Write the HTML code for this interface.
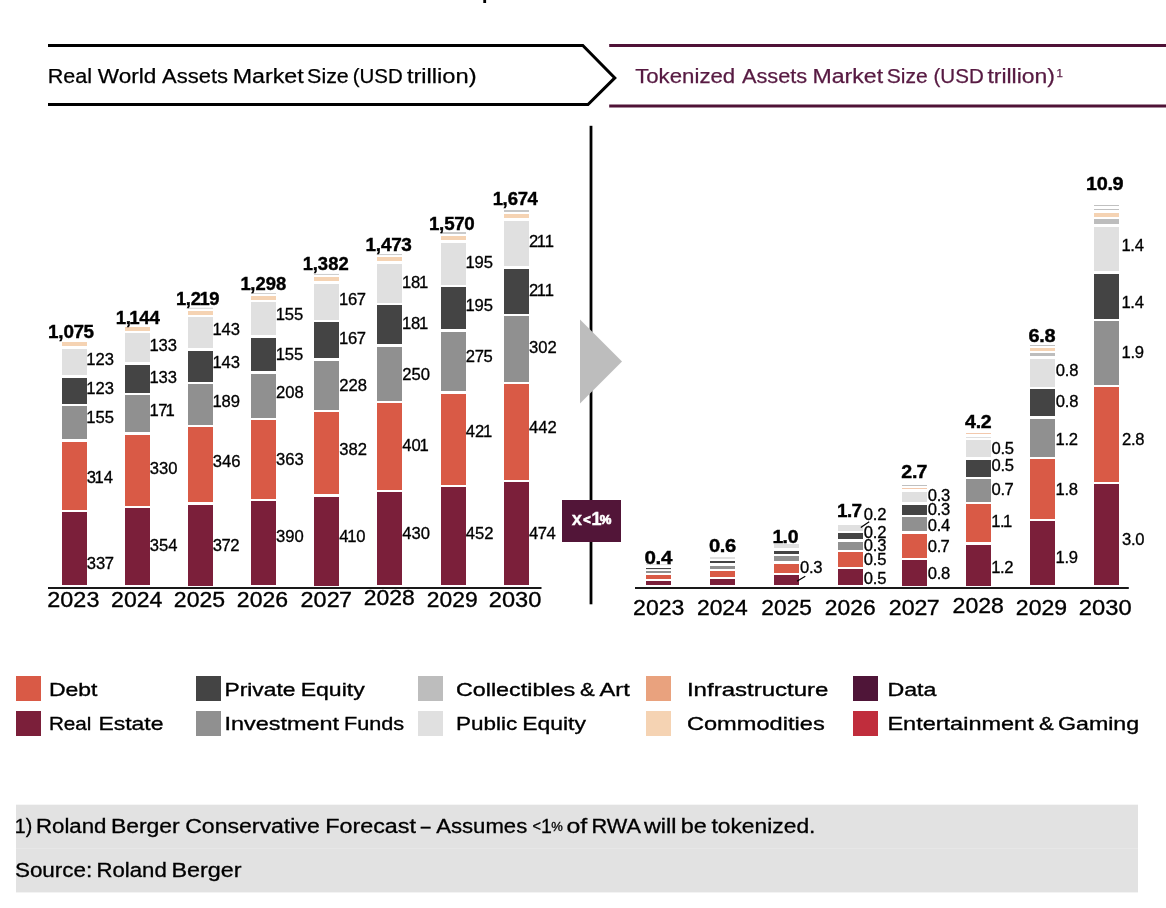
<!DOCTYPE html>
<html lang="en">
<head>
<meta charset="utf-8">
<title>Real World Assets vs Tokenized Assets Market Size</title>
<style>
html,body{margin:0;padding:0;background:#fff;}
body{width:1166px;height:908px;overflow:hidden;}
svg{display:block;}
svg text{font-family:'Liberation Sans', Arial, Helvetica, sans-serif;}
</style>
</head>
<body>
<svg width="1166" height="908" viewBox="0 0 1166 908">
<g id="headers">
<rect x="483.3" y="0" width="2.8" height="3" fill="#000"/>
<path d="M48 45.5H582.8L614.8 77.9L588 104.5H48" fill="none" stroke="#000" stroke-width="3"/>
<text y="82.8" font-size="20" stroke="#000" stroke-width="0.25"><tspan x="47.8" textLength="44.3" lengthAdjust="spacingAndGlyphs">Real</tspan> <tspan x="97.8" textLength="58.5" lengthAdjust="spacingAndGlyphs">World</tspan> <tspan x="162.1" textLength="65.9" lengthAdjust="spacingAndGlyphs">Assets</tspan> <tspan x="232.7" textLength="71" lengthAdjust="spacingAndGlyphs">Market</tspan> <tspan x="307.1" textLength="41.7" lengthAdjust="spacingAndGlyphs">Size</tspan> <tspan x="352.7" textLength="50" lengthAdjust="spacingAndGlyphs">(USD</tspan> <tspan x="406.9" textLength="69.7" lengthAdjust="spacingAndGlyphs">trillion)</tspan></text>
<rect x="609.2" y="44" width="556.8" height="3" fill="#4f1237"/>
<rect x="609.2" y="104.5" width="556.8" height="3" fill="#4f1237"/>
<text y="82.8" font-size="20" fill="#571a42" stroke="#571a42" stroke-width="0.25"><tspan x="635.15" textLength="100.1" lengthAdjust="spacingAndGlyphs">Tokenized</tspan> <tspan x="742" textLength="65.25" lengthAdjust="spacingAndGlyphs">Assets</tspan> <tspan x="812.4" textLength="70.7" lengthAdjust="spacingAndGlyphs">Market</tspan> <tspan x="886.7" textLength="41" lengthAdjust="spacingAndGlyphs">Size</tspan> <tspan x="933.5" textLength="50.25" lengthAdjust="spacingAndGlyphs">(USD</tspan> <tspan x="987.4" textLength="67.6" lengthAdjust="spacingAndGlyphs">trillion)</tspan><tspan x="1056.6" y="77.4" font-size="11.5">1</tspan></text>
</g>
<g id="divider">
<rect x="589.6" y="125.8" width="2.8" height="478.5" fill="#000"/>
<path d="M580 319.6L622 361.4L580 403.6Z" fill="#bdbdbd"/>
<rect x="562" y="500" width="59" height="42" fill="#521538"/>
<text font-weight="700" fill="#fff" stroke="#fff" stroke-width="0.3" font-size="18.5" y="524.9"><tspan x="571.8">x</tspan><tspan x="583.3" y="523.5" font-size="12.8" stroke-width="0.8">&lt;</tspan><tspan x="591.3" y="524.9">1</tspan><tspan x="599.8" y="524.1" font-size="13.1" stroke-width="0.7">%</tspan></text>
</g>
<g id="rwa-chart">
<rect x="48" y="587.1" width="493.5" height="1.8" fill="#000"/>
<rect x="62" y="512" width="25" height="73" fill="#7b1f3a"/>
<rect x="62" y="442" width="25" height="68" fill="#d95a46"/>
<rect x="62" y="406" width="25" height="33" fill="#909090"/>
<rect x="62" y="378" width="25" height="26" fill="#444444"/>
<rect x="62" y="349" width="25" height="26" fill="#e0e0e0"/>
<rect x="62" y="342" width="25" height="4" fill="#f5d3b3"/>
<rect x="125" y="508" width="25" height="77" fill="#7b1f3a"/>
<rect x="125" y="435" width="25" height="71" fill="#d95a46"/>
<rect x="125" y="395" width="25" height="37" fill="#909090"/>
<rect x="125" y="365" width="25" height="28" fill="#444444"/>
<rect x="125" y="333" width="25" height="29" fill="#e0e0e0"/>
<rect x="125" y="327" width="25" height="4" fill="#f5d3b3"/>
<rect x="188" y="505" width="25" height="81" fill="#7b1f3a"/>
<rect x="188" y="427" width="25" height="75" fill="#d95a46"/>
<rect x="188" y="384" width="25" height="41" fill="#909090"/>
<rect x="188" y="351" width="25" height="31" fill="#444444"/>
<rect x="188" y="317" width="25" height="31" fill="#e0e0e0"/>
<rect x="188" y="311" width="25" height="4" fill="#f5d3b3"/>
<rect x="188" y="307.8" width="25" height="0.8" fill="#c6c6c6"/>
<rect x="251" y="501" width="25" height="84" fill="#7b1f3a"/>
<rect x="251" y="420" width="25" height="79" fill="#d95a46"/>
<rect x="251" y="374" width="25" height="44" fill="#909090"/>
<rect x="251" y="338" width="25" height="33" fill="#444444"/>
<rect x="251" y="302" width="25" height="33" fill="#e0e0e0"/>
<rect x="251" y="296" width="25" height="4" fill="#f5d3b3"/>
<rect x="251" y="293.2" width="25" height="0.8" fill="#c6c6c6"/>
<rect x="314" y="497" width="25" height="89" fill="#7b1f3a"/>
<rect x="314" y="412" width="25" height="82" fill="#d95a46"/>
<rect x="314" y="361" width="25" height="49" fill="#909090"/>
<rect x="314" y="322" width="25" height="36" fill="#444444"/>
<rect x="314" y="284" width="25" height="36" fill="#e0e0e0"/>
<rect x="314" y="277" width="25" height="4" fill="#f5d3b3"/>
<rect x="314" y="273.95" width="25" height="0.9" fill="#c6c6c6"/>
<rect x="377" y="492" width="25" height="93" fill="#7b1f3a"/>
<rect x="377" y="403" width="25" height="87" fill="#d95a46"/>
<rect x="377" y="347" width="25" height="54" fill="#909090"/>
<rect x="377" y="305" width="25" height="39" fill="#444444"/>
<rect x="377" y="264" width="25" height="39" fill="#e0e0e0"/>
<rect x="377" y="257" width="25" height="4" fill="#f5d3b3"/>
<rect x="377" y="254.15" width="25" height="0.9" fill="#c6c6c6"/>
<rect x="441" y="487" width="25" height="98" fill="#7b1f3a"/>
<rect x="441" y="394" width="25" height="91" fill="#d95a46"/>
<rect x="441" y="332" width="25" height="59" fill="#909090"/>
<rect x="441" y="287" width="25" height="42" fill="#444444"/>
<rect x="441" y="243" width="25" height="42" fill="#e0e0e0"/>
<rect x="441" y="236" width="25" height="4" fill="#f5d3b3"/>
<rect x="441" y="232.2" width="25" height="1.6" fill="#bdbdbd"/>
<rect x="504" y="482" width="25" height="103" fill="#7b1f3a"/>
<rect x="504" y="384" width="25" height="96" fill="#d95a46"/>
<rect x="504" y="316" width="25" height="66" fill="#909090"/>
<rect x="504" y="269" width="25" height="45" fill="#444444"/>
<rect x="504" y="221" width="25" height="45" fill="#e0e0e0"/>
<rect x="504" y="214" width="25" height="4" fill="#f5d3b3"/>
<rect x="504" y="210.15" width="25" height="1.7" fill="#bdbdbd"/>
<text transform="scale(1.0394,1)" x="83.36 92.26 100.72" y="568.8" font-size="16" stroke="#000" stroke-width="0.3">337</text>
<text transform="scale(1.0394,1)" x="83.36 90.99 99.74" y="483" font-size="16" stroke="#000" stroke-width="0.3">314</text>
<text transform="scale(1.0394,1)" x="83.05 91.8 100.7" y="423.5" font-size="16" stroke="#000" stroke-width="0.3">155</text>
<text transform="scale(1.0394,1)" x="83.05 91.8 100.7" y="394.2" font-size="16" stroke="#000" stroke-width="0.3">123</text>
<text transform="scale(1.0394,1)" x="83.05 91.8 100.7" y="365.4" font-size="16" stroke="#000" stroke-width="0.3">123</text>
<text transform="scale(1.0394,1)" x="144.17 153.07 161.97" y="550.9" font-size="16" stroke="#000" stroke-width="0.3">354</text>
<text transform="scale(1.0394,1)" x="144.17 153.07 161.97" y="474" font-size="16" stroke="#000" stroke-width="0.3">330</text>
<text transform="scale(1.0394,1)" x="143.86 152.16 159.34" y="416" font-size="16" stroke="#000" stroke-width="0.3">171</text>
<text transform="scale(1.0394,1)" x="143.86 152.6 161.5" y="382.8" font-size="16" stroke="#000" stroke-width="0.3">133</text>
<text transform="scale(1.0394,1)" x="143.86 152.6 161.5" y="351" font-size="16" stroke="#000" stroke-width="0.3">133</text>
<text transform="scale(1.0394,1)" x="204.68 213.14 221.59" y="550.9" font-size="16" stroke="#000" stroke-width="0.3">372</text>
<text transform="scale(1.0394,1)" x="204.68 213.58 222.48" y="466.8" font-size="16" stroke="#000" stroke-width="0.3">346</text>
<text transform="scale(1.0394,1)" x="204.37 213.12 222.02" y="407.2" font-size="16" stroke="#000" stroke-width="0.3">189</text>
<text transform="scale(1.0394,1)" x="204.37 213.12 222.02" y="368.5" font-size="16" stroke="#000" stroke-width="0.3">143</text>
<text transform="scale(1.0394,1)" x="204.37 213.12 222.02" y="335.3" font-size="16" stroke="#000" stroke-width="0.3">143</text>
<text transform="scale(1.0394,1)" x="265.58 274.48 283.38" y="541.7" font-size="16" stroke="#000" stroke-width="0.3">390</text>
<text transform="scale(1.0394,1)" x="265.58 274.48 283.38" y="465.1" font-size="16" stroke="#000" stroke-width="0.3">363</text>
<text transform="scale(1.0394,1)" x="265.58 274.48 283.38" y="398.2" font-size="16" stroke="#000" stroke-width="0.3">208</text>
<text transform="scale(1.0394,1)" x="265.27 274.02 282.92" y="359.8" font-size="16" stroke="#000" stroke-width="0.3">155</text>
<text transform="scale(1.0394,1)" x="265.27 274.02 282.92" y="319.8" font-size="16" stroke="#000" stroke-width="0.3">155</text>
<text transform="scale(1.0394,1)" x="326.38 334.01 342.76" y="542.4" font-size="16" stroke="#000" stroke-width="0.3">410</text>
<text transform="scale(1.0394,1)" x="326.38 335.28 344.18" y="455.1" font-size="16" stroke="#000" stroke-width="0.3">382</text>
<text transform="scale(1.0394,1)" x="326.38 335.28 344.18" y="391.1" font-size="16" stroke="#000" stroke-width="0.3">228</text>
<text transform="scale(1.0394,1)" x="326.07 334.82 343.28" y="344.3" font-size="16" stroke="#000" stroke-width="0.3">167</text>
<text transform="scale(1.0394,1)" x="326.07 334.82 343.28" y="304.9" font-size="16" stroke="#000" stroke-width="0.3">167</text>
<text transform="scale(1.0394,1)" x="387.09 395.99 404.89" y="538.9" font-size="16" stroke="#000" stroke-width="0.3">430</text>
<text transform="scale(1.0394,1)" x="387.09 395.99 403.62" y="451" font-size="16" stroke="#000" stroke-width="0.3">401</text>
<text transform="scale(1.0394,1)" x="387.09 395.99 404.89" y="380.2" font-size="16" stroke="#000" stroke-width="0.3">250</text>
<text transform="scale(1.0394,1)" x="386.78 395.53 403.16" y="329.3" font-size="16" stroke="#000" stroke-width="0.3">181</text>
<text transform="scale(1.0394,1)" x="386.78 395.53 403.16" y="288.3" font-size="16" stroke="#000" stroke-width="0.3">181</text>
<text transform="scale(1.0394,1)" x="448.18 457.08 465.98" y="538.8" font-size="16" stroke="#000" stroke-width="0.3">452</text>
<text transform="scale(1.0394,1)" x="448.18 457.08 464.71" y="437.3" font-size="16" stroke="#000" stroke-width="0.3">421</text>
<text transform="scale(1.0394,1)" x="448.18 456.64 465.09" y="362.3" font-size="16" stroke="#000" stroke-width="0.3">275</text>
<text transform="scale(1.0394,1)" x="447.87 456.62 465.52" y="310.9" font-size="16" stroke="#000" stroke-width="0.3">195</text>
<text transform="scale(1.0394,1)" x="447.87 456.62 465.52" y="268" font-size="16" stroke="#000" stroke-width="0.3">195</text>
<text transform="scale(1.0394,1)" x="508.89 517.34 525.8" y="538.7" font-size="16" stroke="#000" stroke-width="0.3">474</text>
<text transform="scale(1.0394,1)" x="508.89 517.79 526.69" y="433.5" font-size="16" stroke="#000" stroke-width="0.3">442</text>
<text transform="scale(1.0394,1)" x="508.89 517.79 526.69" y="353.1" font-size="16" stroke="#000" stroke-width="0.3">302</text>
<text transform="scale(1.0394,1)" x="508.89 516.52 523.99" y="296.3" font-size="16" stroke="#000" stroke-width="0.3">211</text>
<text transform="scale(1.0394,1)" x="508.89 516.52 523.99" y="247.1" font-size="16" stroke="#000" stroke-width="0.3">211</text>
<text transform="scale(1.0202,1)" x="47.09 57 62.14 72.02 81.9" y="338.5" font-size="18.5" stroke="#000" stroke-width="0.4" font-weight="700">1,075</text>
<text transform="scale(1.0098,1)" x="114.54 124.45 127.91 137.82 148.11" y="324" font-size="18.5" stroke="#000" stroke-width="0.4" font-weight="700">1,144</text>
<text transform="scale(0.9932,1)" x="177.09 187 192.15 200.76 210.67" y="305.5" font-size="18.5" stroke="#000" stroke-width="0.4" font-weight="700">1,219</text>
<text transform="scale(0.9967,1)" x="241.27 251.18 256.33 266.62 276.91" y="290" font-size="18.5" stroke="#000" stroke-width="0.4" font-weight="700">1,298</text>
<text transform="scale(0.9967,1)" x="303.88 313.79 318.93 329.22 339.51" y="270.1" font-size="18.5" stroke="#000" stroke-width="0.4" font-weight="700">1,382</text>
<text transform="scale(1.0248,1)" x="356.78 366.69 371.83 381.71 391.59" y="251" font-size="18.5" stroke="#000" stroke-width="0.4" font-weight="700">1,473</text>
<text transform="scale(1.0133,1)" x="423.32 433.23 438.37 448.25 458.13" y="230.3" font-size="18.5" stroke="#000" stroke-width="0.4" font-weight="700">1,570</text>
<text transform="scale(1.0018,1)" x="491.79 501.7 506.85 516.72 526.6" y="205.3" font-size="18.5" stroke="#000" stroke-width="0.4" font-weight="700">1,674</text>
<text transform="scale(1.0634,1)" x="44.53 56.76 69 81.24" y="606.6" font-size="22" stroke="#000" stroke-width="0.35">2023</text>
<text transform="scale(1.0481,1)" x="106 118.24 130.47 142.71" y="606.6" font-size="22" stroke="#000" stroke-width="0.35">2024</text>
<text transform="scale(1.0481,1)" x="165.87 178.11 190.34 202.58" y="606.6" font-size="22" stroke="#000" stroke-width="0.35">2025</text>
<text transform="scale(1.0481,1)" x="225.98 238.22 250.45 262.69" y="606.6" font-size="22" stroke="#000" stroke-width="0.35">2026</text>
<text transform="scale(1.0645,1)" x="282.39 294.62 306.86 318.48" y="606.6" font-size="22" stroke="#000" stroke-width="0.35">2027</text>
<text transform="scale(1.0430,1)" x="348.85 361.09 373.32 385.56" y="605.35" font-size="22" stroke="#000" stroke-width="0.35">2028</text>
<text transform="scale(1.0379,1)" x="411.27 423.5 435.74 447.98" y="606.6" font-size="22" stroke="#000" stroke-width="0.35">2029</text>
<text transform="scale(1.0736,1)" x="455.32 467.56 479.79 492.03" y="606.6" font-size="22" stroke="#000" stroke-width="0.35">2030</text>
</g>
<g id="tokenized-chart">
<rect x="635" y="587.1" width="493.8" height="1.8" fill="#000"/>
<rect x="646" y="581" width="25" height="4" fill="#7b1f3a"/>
<rect x="646" y="575" width="25" height="4" fill="#d95a46"/>
<rect x="646" y="571" width="25" height="2" fill="#909090"/>
<rect x="646" y="568" width="25" height="1.1" fill="#444444"/>
<rect x="646" y="564.1" width="25" height="1" fill="#e0e0e0"/>
<rect x="710" y="579" width="25" height="6" fill="#7b1f3a"/>
<rect x="710" y="571" width="25" height="6" fill="#d95a46"/>
<rect x="710" y="566" width="25" height="3" fill="#909090"/>
<rect x="710" y="561" width="25" height="2" fill="#444444"/>
<rect x="710" y="557" width="25" height="2" fill="#e0e0e0"/>
<rect x="774" y="575" width="25" height="10" fill="#7b1f3a"/>
<rect x="774" y="564" width="25" height="9" fill="#d95a46"/>
<rect x="774" y="556" width="25" height="5" fill="#909090"/>
<rect x="774" y="551" width="25" height="3" fill="#444444"/>
<rect x="774" y="544" width="25" height="4" fill="#e0e0e0"/>
<rect x="838" y="569" width="25" height="16" fill="#7b1f3a"/>
<rect x="838" y="552" width="25" height="15" fill="#d95a46"/>
<rect x="838" y="542" width="25" height="8" fill="#909090"/>
<rect x="838" y="533" width="25" height="6" fill="#444444"/>
<rect x="838" y="525" width="25" height="6" fill="#e0e0e0"/>
<rect x="902" y="560" width="25" height="26" fill="#7b1f3a"/>
<rect x="902" y="534" width="25" height="24" fill="#d95a46"/>
<rect x="902" y="517" width="25" height="14" fill="#909090"/>
<rect x="902" y="505" width="25" height="10" fill="#444444"/>
<rect x="902" y="492" width="25" height="10" fill="#e0e0e0"/>
<rect x="902" y="488.1" width="25" height="0.8" fill="#f0bb98"/>
<rect x="902" y="485" width="25" height="0.8" fill="#b0b0b0"/>
<rect x="966" y="545" width="25" height="41" fill="#7b1f3a"/>
<rect x="966" y="504" width="25" height="38" fill="#d95a46"/>
<rect x="966" y="479" width="25" height="23" fill="#909090"/>
<rect x="966" y="460" width="25" height="17" fill="#444444"/>
<rect x="966" y="440" width="25" height="17" fill="#e0e0e0"/>
<rect x="966" y="437.1" width="25" height="0.8" fill="#d6d6d6"/>
<rect x="966" y="433.1" width="25" height="0.8" fill="#f0bb98"/>
<rect x="1030" y="521" width="25" height="64" fill="#7b1f3a"/>
<rect x="1030" y="459" width="25" height="60" fill="#d95a46"/>
<rect x="1030" y="419" width="25" height="38" fill="#909090"/>
<rect x="1030" y="389" width="25" height="27" fill="#444444"/>
<rect x="1030" y="359" width="25" height="28" fill="#e0e0e0"/>
<rect x="1030" y="353" width="25" height="3" fill="#bdbdbd"/>
<rect x="1030" y="348" width="25" height="3" fill="#f5d3b3"/>
<rect x="1030" y="345.1" width="25" height="0.8" fill="#b0b0b0"/>
<rect x="1094" y="484" width="25" height="101" fill="#7b1f3a"/>
<rect x="1094" y="387" width="25" height="95" fill="#d95a46"/>
<rect x="1094" y="321" width="25" height="64" fill="#909090"/>
<rect x="1094" y="274" width="25" height="45" fill="#444444"/>
<rect x="1094" y="227" width="25" height="44" fill="#e0e0e0"/>
<rect x="1094" y="219" width="25" height="5" fill="#bdbdbd"/>
<rect x="1094" y="213" width="25" height="4" fill="#f5d3b3"/>
<rect x="1094" y="209.1" width="25" height="0.8" fill="#b0b0b0"/>
<rect x="1094" y="205.1" width="25" height="0.8" fill="#b0b0b0"/>
<text transform="scale(1.0394,1)" x="769.71 778.34 782.52" y="572.9" font-size="16" stroke="#000" stroke-width="0.3">0.3</text>
<text transform="scale(1.0394,1)" x="831.09 839.72 843.9" y="520" font-size="16" stroke="#000" stroke-width="0.3">0.2</text>
<text transform="scale(1.0394,1)" x="831.09 839.72 843.9" y="537.8" font-size="16" stroke="#000" stroke-width="0.3">0.2</text>
<text transform="scale(1.0394,1)" x="831.09 839.72 843.9" y="550.7" font-size="16" stroke="#000" stroke-width="0.3">0.3</text>
<text transform="scale(1.0394,1)" x="831.09 839.72 843.9" y="565.1" font-size="16" stroke="#000" stroke-width="0.3">0.5</text>
<text transform="scale(1.0394,1)" x="831.09 839.72 843.9" y="583.9" font-size="16" stroke="#000" stroke-width="0.3">0.5</text>
<text transform="scale(1.0394,1)" x="892.57 901.2 905.38" y="500.9" font-size="16" stroke="#000" stroke-width="0.3">0.3</text>
<text transform="scale(1.0394,1)" x="892.57 901.2 905.38" y="514.9" font-size="16" stroke="#000" stroke-width="0.3">0.3</text>
<text transform="scale(1.0394,1)" x="892.57 901.2 905.38" y="530.9" font-size="16" stroke="#000" stroke-width="0.3">0.4</text>
<text transform="scale(1.0394,1)" x="892.57 901.2 904.94" y="552.1" font-size="16" stroke="#000" stroke-width="0.3">0.7</text>
<text transform="scale(1.0394,1)" x="892.57 901.2 905.38" y="579.2" font-size="16" stroke="#000" stroke-width="0.3">0.8</text>
<text transform="scale(1.0394,1)" x="953.95 962.58 966.76" y="454.5" font-size="16" stroke="#000" stroke-width="0.3">0.5</text>
<text transform="scale(1.0394,1)" x="953.95 962.58 966.76" y="471.2" font-size="16" stroke="#000" stroke-width="0.3">0.5</text>
<text transform="scale(1.0394,1)" x="953.95 962.58 966.32" y="495.1" font-size="16" stroke="#000" stroke-width="0.3">0.7</text>
<text transform="scale(1.0394,1)" x="953.64 962.12 965.03" y="527.4" font-size="16" stroke="#000" stroke-width="0.3">1.1</text>
<text transform="scale(1.0394,1)" x="953.64 962.12 966.3" y="572.6" font-size="16" stroke="#000" stroke-width="0.3">1.2</text>
<text transform="scale(1.0394,1)" x="1015.81 1024.44 1028.62" y="376.3" font-size="16" stroke="#000" stroke-width="0.3">0.8</text>
<text transform="scale(1.0394,1)" x="1015.81 1024.44 1028.62" y="407.5" font-size="16" stroke="#000" stroke-width="0.3">0.8</text>
<text transform="scale(1.0394,1)" x="1015.59 1024.08 1028.26" y="445.1" font-size="16" stroke="#000" stroke-width="0.3">1.2</text>
<text transform="scale(1.0394,1)" x="1015.59 1024.08 1028.26" y="495.2" font-size="16" stroke="#000" stroke-width="0.3">1.8</text>
<text transform="scale(1.0394,1)" x="1015.59 1024.08 1028.26" y="563.4" font-size="16" stroke="#000" stroke-width="0.3">1.9</text>
<text transform="scale(1.0394,1)" x="1078.99 1087.48 1091.66" y="251.4" font-size="16" stroke="#000" stroke-width="0.3">1.4</text>
<text transform="scale(1.0394,1)" x="1078.99 1087.48 1091.66" y="308.5" font-size="16" stroke="#000" stroke-width="0.3">1.4</text>
<text transform="scale(1.0394,1)" x="1079.09 1087.57 1091.75" y="358.1" font-size="16" stroke="#000" stroke-width="0.3">1.9</text>
<text transform="scale(1.0394,1)" x="1079.5 1088.13 1092.31" y="445.1" font-size="16" stroke="#000" stroke-width="0.3">2.8</text>
<text transform="scale(1.0394,1)" x="1079.5 1088.13 1092.31" y="545.5" font-size="16" stroke="#000" stroke-width="0.3">3.0</text>
<path d="M805.3 576.2L797 581.3M869.2 521.8L860.8 527.6" stroke="#000" stroke-width="1.2" fill="none"/>
<text transform="scale(1.1112,1)" x="580.02 590.01 594.84" y="564" font-size="18.5" stroke="#000" stroke-width="0.4" font-weight="700">0.4</text>
<text transform="scale(1.0913,1)" x="649.62 659.6 664.43" y="552" font-size="18.5" stroke="#000" stroke-width="0.4" font-weight="700">0.6</text>
<text transform="scale(1.0499,1)" x="735.84 745.44 750.28" y="543" font-size="18.5" stroke="#000" stroke-width="0.4" font-weight="700">1.0</text>
<text transform="scale(1.0213,1)" x="819.65 829.25 833.67" y="516.9" font-size="18.5" stroke="#000" stroke-width="0.4" font-weight="700">1.7</text>
<text transform="scale(1.0624,1)" x="848.38 858.36 862.78" y="478" font-size="18.5" stroke="#000" stroke-width="0.4" font-weight="700">2.7</text>
<text transform="scale(1.0575,1)" x="912.64 922.63 927.46" y="428.2" font-size="18.5" stroke="#000" stroke-width="0.4" font-weight="700">4.2</text>
<text transform="scale(1.0754,1)" x="956.34 966.32 971.16" y="342" font-size="18.5" stroke="#000" stroke-width="0.4" font-weight="700">6.8</text>
<text transform="scale(1.0738,1)" x="1011.38 1021.29 1031.27 1036.11" y="190.2" font-size="18.5" stroke="#000" stroke-width="0.4" font-weight="700">10.9</text>
<text transform="scale(1.0481,1)" x="604.04 616.28 628.52 640.75" y="614.6" font-size="22" stroke="#000" stroke-width="0.35">2023</text>
<text transform="scale(1.0399,1)" x="670.19 682.43 694.66 706.9" y="614.6" font-size="22" stroke="#000" stroke-width="0.35">2024</text>
<text transform="scale(1.0328,1)" x="737.19 749.42 761.66 773.89" y="614.6" font-size="22" stroke="#000" stroke-width="0.35">2025</text>
<text transform="scale(1.0379,1)" x="794.74 806.98 819.21 831.45" y="614.6" font-size="22" stroke="#000" stroke-width="0.35">2026</text>
<text transform="scale(1.0540,1)" x="843.29 855.53 867.77 879.39" y="614.6" font-size="22" stroke="#000" stroke-width="0.35">2027</text>
<text transform="scale(1.0481,1)" x="908.88 921.12 933.35 945.59" y="613.35" font-size="22" stroke="#000" stroke-width="0.35">2028</text>
<text transform="scale(1.0481,1)" x="969.23 981.46 993.7 1005.94" y="614.6" font-size="22" stroke="#000" stroke-width="0.35">2029</text>
<text transform="scale(1.0787,1)" x="1000.09 1012.33 1024.57 1036.8" y="614.6" font-size="22" stroke="#000" stroke-width="0.35">2030</text>
</g>
<g id="legend">
<rect x="16" y="676" width="25" height="25" fill="#d95a46"/>
<text y="695.8" font-size="19" stroke="#000" stroke-width="0.35"><tspan x="48.95" textLength="48.5" lengthAdjust="spacingAndGlyphs">Debt</tspan></text>
<rect x="16" y="711" width="25" height="25" fill="#7b1f3a"/>
<text y="730.3" font-size="19" stroke="#000" stroke-width="0.35"><tspan x="48.95" textLength="42.5" lengthAdjust="spacingAndGlyphs">Real</tspan> <tspan x="98.45" textLength="65" lengthAdjust="spacingAndGlyphs">Estate</tspan></text>
<rect x="196" y="676" width="25" height="25" fill="#444444"/>
<text y="695.8" font-size="19" stroke="#000" stroke-width="0.35"><tspan x="224.46" textLength="71" lengthAdjust="spacingAndGlyphs">Private</tspan> <tspan x="300.7" textLength="64" lengthAdjust="spacingAndGlyphs">Equity</tspan></text>
<rect x="196" y="711" width="25" height="25" fill="#909090"/>
<text y="730.3" font-size="19" stroke="#000" stroke-width="0.35"><tspan x="224.46" textLength="114.5" lengthAdjust="spacingAndGlyphs">Investment</tspan> <tspan x="343.95" textLength="60.25" lengthAdjust="spacingAndGlyphs">Funds</tspan></text>
<rect x="418" y="676" width="25" height="25" fill="#bdbdbd"/>
<text y="695.8" font-size="19" stroke="#000" stroke-width="0.35"><tspan x="455.95" textLength="119.25" lengthAdjust="spacingAndGlyphs">Collectibles</tspan> <tspan x="579.93" textLength="14.77" lengthAdjust="spacingAndGlyphs">&amp;</tspan> <tspan x="599.5" textLength="30.2" lengthAdjust="spacingAndGlyphs">Art</tspan></text>
<rect x="418" y="711" width="25" height="25" fill="#e0e0e0"/>
<text y="730.3" font-size="19" stroke="#000" stroke-width="0.35"><tspan x="455.95" textLength="61.25" lengthAdjust="spacingAndGlyphs">Public</tspan> <tspan x="522.21" textLength="63.75" lengthAdjust="spacingAndGlyphs">Equity</tspan></text>
<rect x="646" y="676" width="25" height="25" fill="#e9a27e"/>
<text y="695.8" font-size="19" stroke="#000" stroke-width="0.35"><tspan x="686.96" textLength="141.49" lengthAdjust="spacingAndGlyphs">Infrastructure</tspan></text>
<rect x="646" y="711" width="25" height="25" fill="#f5d3b3"/>
<text y="730.3" font-size="19" stroke="#000" stroke-width="0.35"><tspan x="686.96" textLength="137.74" lengthAdjust="spacingAndGlyphs">Commodities</tspan></text>
<rect x="853" y="676" width="25" height="25" fill="#4f1538"/>
<text y="695.8" font-size="19" stroke="#000" stroke-width="0.35"><tspan x="887.46" textLength="49" lengthAdjust="spacingAndGlyphs">Data</tspan></text>
<rect x="853" y="711" width="25" height="25" fill="#c02d3c"/>
<text y="730.3" font-size="19" stroke="#000" stroke-width="0.35"><tspan x="887.46" textLength="146.24" lengthAdjust="spacingAndGlyphs">Entertainment</tspan> <tspan x="1038.93" textLength="14.77" lengthAdjust="spacingAndGlyphs">&amp;</tspan> <tspan x="1057.95" textLength="81.25" lengthAdjust="spacingAndGlyphs">Gaming</tspan></text>
</g>
<g id="footnote">
<rect x="16" y="804.7" width="1122" height="87.7" fill="#e2e2e2"/>
<rect x="16" y="848.1" width="1122" height="0.8" fill="#e9e9e9"/>
<text y="833" font-size="19.5" stroke="#000" stroke-width="0.3"><tspan x="14.83" textLength="17.4" lengthAdjust="spacingAndGlyphs">1)</tspan> <tspan x="35.93" textLength="70.55" lengthAdjust="spacingAndGlyphs">Roland</tspan> <tspan x="110.93" textLength="68.8" lengthAdjust="spacingAndGlyphs">Berger</tspan> <tspan x="185.18" textLength="134.55" lengthAdjust="spacingAndGlyphs">Conservative</tspan> <tspan x="325.18" textLength="90.8" lengthAdjust="spacingAndGlyphs">Forecast</tspan> <tspan x="420.67" textLength="9.81" lengthAdjust="spacingAndGlyphs">–</tspan> <tspan x="436.25" textLength="90.97" lengthAdjust="spacingAndGlyphs">Assumes</tspan> <tspan x="532.5" y="830.9" font-size="14.5">&lt;</tspan><tspan x="541" y="833" font-size="19.5">1</tspan><tspan x="551.2" y="831.4" font-size="13">%</tspan><tspan y="833" font-size="19.5"> </tspan> <tspan x="566.43" textLength="20.8" lengthAdjust="spacingAndGlyphs">of</tspan> <tspan x="591.43" textLength="48.3" lengthAdjust="spacingAndGlyphs">RWA</tspan> <tspan x="643.93" textLength="32.55" lengthAdjust="spacingAndGlyphs">will</tspan> <tspan x="680.68" textLength="26.05" lengthAdjust="spacingAndGlyphs">be</tspan> <tspan x="711.43" textLength="104.05" lengthAdjust="spacingAndGlyphs">tokenized.</tspan></text>
<text y="876.8" font-size="19.5" stroke="#000" stroke-width="0.3"><tspan x="14.93" textLength="77.3" lengthAdjust="spacingAndGlyphs">Source:</tspan> <tspan x="96.43" textLength="70.3" lengthAdjust="spacingAndGlyphs">Roland</tspan> <tspan x="171.43" textLength="70.05" lengthAdjust="spacingAndGlyphs">Berger</tspan></text>
</g>
</svg>
</body>
</html>
